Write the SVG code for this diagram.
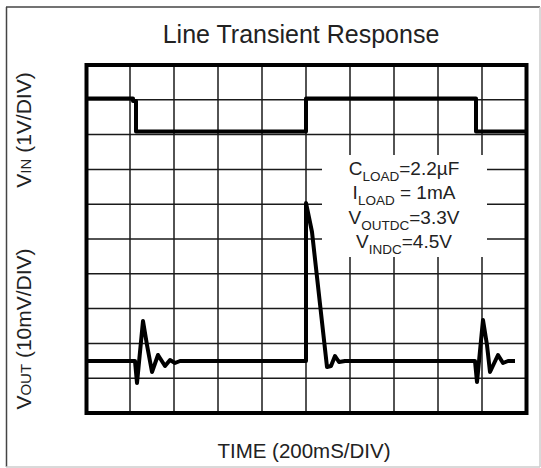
<svg xmlns="http://www.w3.org/2000/svg" width="541" height="468" viewBox="0 0 541 468">
  <style>
    .t { font-family: "Liberation Sans", Arial, sans-serif; fill: #222; }
    .grid line { stroke: #1a1a1a; stroke-width: 1.5; }
    .trace { fill: none; stroke: #000; stroke-width: 4; stroke-linejoin: round; stroke-linecap: butt; }
  </style>
  <rect x="0" y="0" width="541" height="468" fill="#fff"/>
  <g id="border">
    <line x1="6" y1="7" x2="540" y2="7" stroke="#444" stroke-width="1.5"/>
    <line x1="6.5" y1="7" x2="6.5" y2="467" stroke="#444" stroke-width="1.5"/>
    <line x1="540" y1="7" x2="540" y2="467" stroke="#ccc" stroke-width="1.5"/>
    <line x1="6" y1="467" x2="540" y2="467" stroke="#ccc" stroke-width="1.5"/>
  </g>
  <text id="title" class="t" x="301" y="43" font-size="25" text-anchor="middle">Line Transient Response</text>
  <g id="grid" class="grid">
    <line x1="130" y1="65" x2="130" y2="413"/>
    <line x1="174" y1="65" x2="174" y2="413"/>
    <line x1="218" y1="65" x2="218" y2="413"/>
    <line x1="262" y1="65" x2="262" y2="413"/>
    <line x1="306" y1="65" x2="306" y2="413"/>
    <line x1="350" y1="65" x2="350" y2="413"/>
    <line x1="394" y1="65" x2="394" y2="413"/>
    <line x1="438" y1="65" x2="438" y2="413"/>
    <line x1="482" y1="65" x2="482" y2="413"/>
    <line x1="86" y1="99.8" x2="526" y2="99.8"/>
    <line x1="86" y1="134.6" x2="526" y2="134.6"/>
    <line x1="86" y1="169.4" x2="526" y2="169.4"/>
    <line x1="86" y1="204.2" x2="526" y2="204.2"/>
    <line x1="86" y1="239" x2="526" y2="239"/>
    <line x1="86" y1="273.8" x2="526" y2="273.8"/>
    <line x1="86" y1="308.6" x2="526" y2="308.6"/>
    <line x1="86" y1="343.4" x2="526" y2="343.4"/>
    <line x1="86" y1="378.2" x2="526" y2="378.2"/>
  </g>
  <rect x="322" y="155" width="165" height="102" fill="#fff"/>
  <rect id="frame" x="86.5" y="65" width="440" height="348" fill="none" stroke="#000" stroke-width="4"/>
  <g id="traces">
    <path id="vin" class="trace" d="M88,98.5 H133 V101 H136 V131.5 H306 V98.5 H476 V131.5 H525"/>
    <path id="vout" class="trace" d="M88,361 H135 L137,383 L143,321 L147,345 L152,372 L158,355 L165,366 L170,360 L175,363 L180,361 H306 V203 L312,232 L327,367 L331,366 L335,356 L339,362 L345,361 H475 L477,382 L483,320 L487,345 L490,372 L498,355 L503,363 L508,361 H515"/>
  </g>
  <g id="conditions" class="t" font-size="19" text-anchor="middle">
    <text x="404" y="175">C<tspan font-size="13.5" dy="6">LOAD</tspan><tspan dy="-6">=2.2µF</tspan></text>
    <text x="404" y="199">I<tspan font-size="13.5" dy="6">LOAD</tspan><tspan dy="-6"> = 1mA</tspan></text>
    <text x="404" y="224">V<tspan font-size="13.5" dy="6">OUTDC</tspan><tspan dy="-6">=3.3V</tspan></text>
    <text x="404" y="248">V<tspan font-size="13.5" dy="6">INDC</tspan><tspan dy="-6">=4.5V</tspan></text>
  </g>
  <text id="ylabel-vin" class="t" font-size="21" text-anchor="middle" transform="translate(31,130) rotate(-90)">V<tspan font-size="15">IN</tspan> (1V/DIV)</text>
  <text id="ylabel-vout" class="t" font-size="21" text-anchor="middle" transform="translate(31,329) rotate(-90)">V<tspan font-size="15">OUT</tspan> (10mV/DIV)</text>
  <text id="xlabel" class="t" x="304" y="458" font-size="20.5" text-anchor="middle">TIME (200mS/DIV)</text>
</svg>
